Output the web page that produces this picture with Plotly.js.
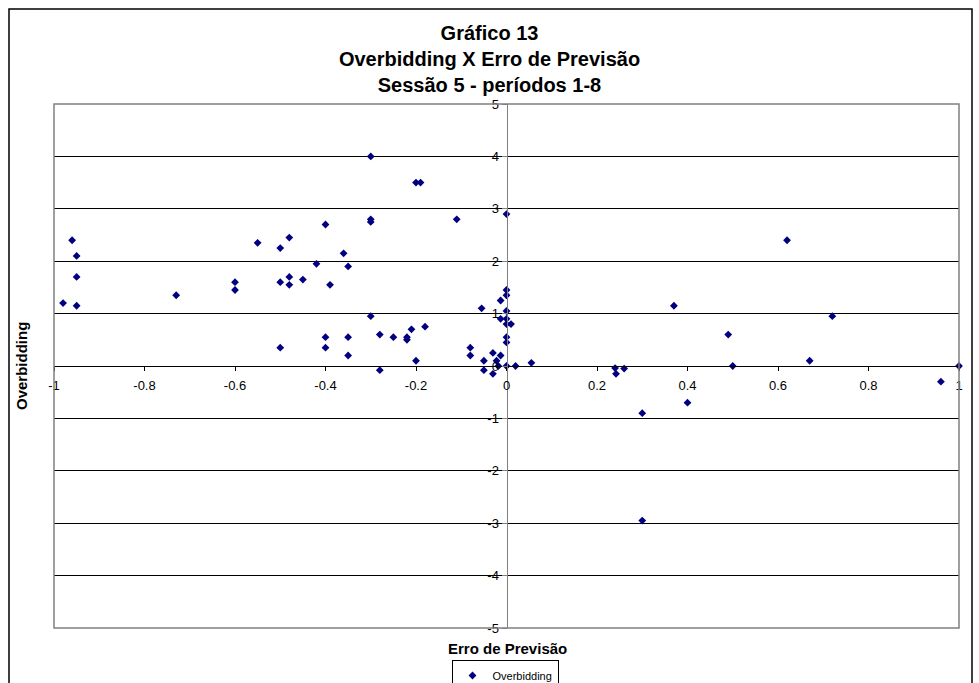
<!DOCTYPE html>
<html>
<head>
<meta charset="utf-8">
<script src="https://cdn.plot.ly/plotly-3.0.1.min.js"></script>
<style>
html,body{margin:0;padding:0;background:#fff;}
#chart{width:979px;height:683px;}
</style>
</head>
<body>
<div id="chart"></div>
<script>
// Erro de Previsão (x) and Overbidding (y)
const erroPrevisao = [
  -0.96, -0.95, -0.95, -0.98, -0.95, -0.73, -0.60, -0.60, -0.55, -0.50,
  -0.48, -0.50, -0.48, -0.48, -0.45, -0.42, -0.40, -0.39, -0.36, -0.35,
  -0.50, -0.40, -0.40, -0.35, -0.35,
  -0.30, -0.20, -0.19, -0.30, -0.30, -0.11, 0.00, -0.30, -0.28, -0.25,
  -0.22, -0.22, -0.21, -0.18, -0.20, -0.28,
  -0.055, -0.013, 0.00, 0.00, 0.00, -0.013, 0.00, 0.00, 0.01, 0.00,
  0.00, -0.08, -0.08, -0.05, -0.05, -0.03, -0.03, -0.022, -0.013, -0.018,
  0.00, 0.02, 0.055,
  0.24, 0.242, 0.26, 0.30, 0.30, 0.37, 0.40, 0.49, 0.50, 0.62,
  0.67, 0.72, 0.96, 1.00
];
const overbidding = [
  2.40, 2.10, 1.70, 1.20, 1.15, 1.35, 1.60, 1.45, 2.35, 2.25,
  2.45, 1.60, 1.70, 1.55, 1.65, 1.95, 2.70, 1.55, 2.15, 1.90,
  0.35, 0.55, 0.35, 0.55, 0.20,
  4.00, 3.50, 3.50, 2.80, 2.75, 2.80, 2.90, 0.95, 0.60, 0.55,
  0.55, 0.50, 0.70, 0.75, 0.10, -0.08,
  1.10, 1.25, 1.45, 1.35, 1.05, 0.90, 0.90, 0.80, 0.80, 0.55,
  0.45, 0.35, 0.20, 0.10, -0.08, 0.25, -0.15, 0.10, 0.20, 0.00,
  0.00, 0.00, 0.06,
  -0.04, -0.15, -0.05, -0.90, -2.95, 1.15, -0.70, 0.60, 0.00, 2.40,
  0.10, 0.95, -0.30, 0.00
];

const xTickVals = [-1, -0.8, -0.6, -0.4, -0.2, 0, 0.2, 0.4, 0.6, 0.8, 1];
const xTickText = ["-1", "-0.8", "-0.6", "-0.4", "-0.2", "0", "0.2", "0.4", "0.6", "0.8", "1"];
const yTickVals = [-5, -4, -3, -2, -1, 0, 1, 2, 3, 4, 5];
const yTickText = ["-5", "-4", "-3", "-2", "-1", "0", "1", "2", "3", "4", "5"];

const chartTitle = "Gráfico 13<br>Overbidding X Erro de Previsão<br>Sessão 5 - períodos 1-8";
const xTitle = "Erro de Previsão";
const yTitle = "Overbidding";
const seriesName = "Overbidding";

const FONT = "Liberation Sans, Arial, sans-serif";

const trace = {
  type: "scatter",
  mode: "markers",
  name: seriesName,
  x: erroPrevisao,
  y: overbidding,
  cliponaxis: false,
  marker: {symbol: "diamond", size: 6, color: "#000080", line: {width: 0}}
};

// plot area geometry (px)
const W = 979, H = 683;
const mL = 54, mR = 20, mT = 104, mB = 55;
const pw = W - mL - mR, ph = H - mT - mB;
const px = v => (v - mL) / pw;
const py = v => (H - mB - v) / ph;

const layout = {
  width: W, height: H,
  margin: {l: mL, r: mR, t: mT, b: mB, pad: 0, autoexpand: false},
  paper_bgcolor: "#ffffff",
  plot_bgcolor: "#ffffff",
  font: {family: FONT, color: "#000", size: 12},
  showlegend: true,
  title: {
    text: chartTitle,
    font: {family: FONT, size: 20, color: "#000", weight: "bold"},
    x: 0.5, xanchor: "center",
    yref: "container", y: 1 - 40 / H, yanchor: "middle"
  },
  xaxis: {
    range: [-1, 1],
    anchor: "free", position: 0.5,
    showline: true, linecolor: "#000", linewidth: 1,
    ticks: "outside", ticklen: 4, tickcolor: "#000", tickwidth: 1,
    tickvals: xTickVals, ticktext: xTickText,
    tickfont: {family: FONT, size: 13, color: "#000"},
    ticklabelstandoff: 3,
    showgrid: false, zeroline: false, fixedrange: true,
    automargin: false
  },
  yaxis: {
    range: [-5, 5],
    anchor: "free", position: 0.5,
    showline: true, linecolor: "#808080", linewidth: 1,
    ticks: "outside", ticklen: 5, tickcolor: "#808080", tickwidth: 1,
    tickvals: yTickVals, ticktext: yTickText,
    tickfont: {family: FONT, size: 13, color: "#000"},
    showgrid: true, gridcolor: "#000", gridwidth: 1,
    zeroline: false, fixedrange: true,
    automargin: false
  },
  legend: {
    orientation: "h",
    x: px(505), xanchor: "center",
    y: py(660), yanchor: "top",
    bordercolor: "#000", borderwidth: 1, bgcolor: "#fff",
    font: {family: FONT, size: 11, color: "#000"},
    itemwidth: 30
  },
  annotations: [
    {text: xTitle, xref: "paper", yref: "paper", x: px(507), y: py(648),
     xanchor: "center", yanchor: "middle", showarrow: false,
     font: {family: FONT, size: 15, color: "#000", weight: "bold"}},
    {text: yTitle, xref: "paper", yref: "paper", x: px(21), y: py(366),
     xanchor: "center", yanchor: "middle", showarrow: false, textangle: -90,
     font: {family: FONT, size: 15, color: "#000", weight: "bold"}}
  ],
  shapes: [
    {type: "rect", xref: "paper", yref: "paper", x0: 0, x1: 1, y0: 0, y1: 1,
     line: {color: "#808080", width: 1.5}, layer: "above"},
    {type: "rect", xref: "paper", yref: "paper",
     x0: px(9), x1: px(972), y0: py(700), y1: py(9),
     line: {color: "#000", width: 1.5}, layer: "below"}
  ]
};

Plotly.newPlot("chart", [trace], layout, {staticPlot: true, displayModeBar: false});
</script>
</body>
</html>
